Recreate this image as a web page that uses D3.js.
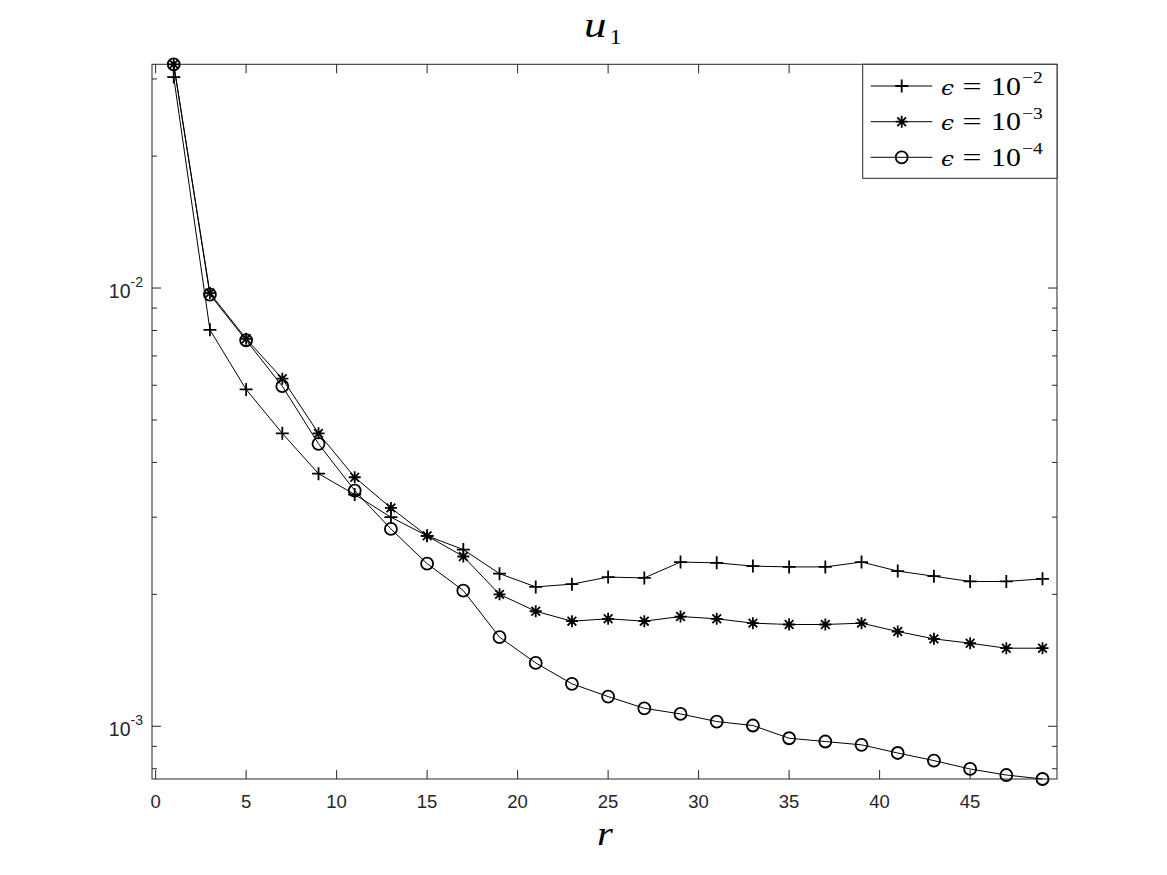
<!DOCTYPE html>
<html><head><meta charset="utf-8">
<script src="https://cdn.jsdelivr.net/npm/d3@7"></script>
<style>body{margin:0;background:#fff}svg{display:block}</style>
</head><body>
<svg id="c" width="1167" height="875"></svg>
<script>
const rValues = [1,3,5,7,9,11,13,15,17,19,21,23,25,27,29,31,33,35,37,39,41,43,45,47,49];
const eps2 = [0.0303,8.03e-3,5.87e-3,4.66e-3,3.77e-3,3.38e-3,3.00e-3,2.72e-3,2.53e-3,2.23e-3,2.08e-3,2.11e-3,2.19e-3,2.18e-3,2.37e-3,2.36e-3,2.32e-3,2.31e-3,2.31e-3,2.37e-3,2.26e-3,2.20e-3,2.14e-3,2.14e-3,2.17e-3];
const eps3 = [0.0324,9.74e-3,7.66e-3,6.21e-3,4.66e-3,3.70e-3,3.15e-3,2.72e-3,2.44e-3,2.00e-3,1.83e-3,1.737e-3,1.759e-3,1.737e-3,1.78e-3,1.759e-3,1.719e-3,1.707e-3,1.707e-3,1.719e-3,1.645e-3,1.583e-3,1.547e-3,1.507e-3,1.507e-3];
const eps4 = [0.0324,9.66e-3,7.60e-3,5.97e-3,4.41e-3,3.45e-3,2.82e-3,2.35e-3,2.04e-3,1.597e-3,1.395e-3,1.25e-3,1.169e-3,1.099e-3,1.067e-3,1.025e-3,1.004e-3,9.39e-4,9.23e-4,9.07e-4,8.69e-4,8.35e-4,7.99e-4,7.74e-4,7.58e-4];
const seriesNames = ["−2","−3","−4"];
const seriesMarkers = ["plus","star","circle"];
const xTicks = [0,5,10,15,20,25,30,35,40,45];
const yMajor = [1e-3,1e-2];
const yMajorExp = ["-3","-2"];
const xLimits = [-0.2, 49.8];

const svg = d3.select("#c");
const L=152, R=1057, T=64.3, B=779;
const x = d3.scaleLinear().domain(xLimits).range([L,R]);
const all = eps2.concat(eps3, eps4);
const y = d3.scaleLog().domain([d3.min(all), d3.max(all)]).range([B,T]);
const ax = "#262626";
const SANS = "Liberation Sans, Arial, sans-serif";
const SERIF = "Liberation Serif, serif";

function stext(parent, px, py, sx, anchor){
  return parent.append("text").attr("transform",`translate(${px},${py}) scale(${sx},1)`).attr("text-anchor",anchor||"start");
}

const minor = [];
for (let e=-4;e<=-1;e++) for (let k=2;k<=9;k++){const v=k*Math.pow(10,e); if(v>=y.domain()[0]&&v<=y.domain()[1]) minor.push(v);}

const g = svg.append("g");
g.append("rect").attr("x",L).attr("y",T).attr("width",R-L).attr("height",B-T).attr("fill","none").attr("stroke",ax).attr("stroke-width",1);
xTicks.forEach(t=>{
  const px=x(t);
  g.append("line").attr("x1",px).attr("x2",px).attr("y1",B).attr("y2",B-9).attr("stroke",ax);
  g.append("line").attr("x1",px).attr("x2",px).attr("y1",T).attr("y2",T+9).attr("stroke",ax);
  g.append("text").attr("x",px).attr("y",808).attr("text-anchor","middle").attr("font-family",SANS).attr("font-size",18.5).attr("fill",ax).text(t);
});
yMajor.forEach((t,i)=>{
  const py=y(t);
  g.append("line").attr("x1",L).attr("x2",L+9).attr("y1",py).attr("y2",py).attr("stroke",ax);
  g.append("line").attr("x1",R).attr("x2",R-9).attr("y1",py).attr("y2",py).attr("stroke",ax);
  const tx=g.append("text").attr("x",143).attr("y",py+9.5).attr("text-anchor","end").attr("font-family",SANS).attr("font-size",19.5).attr("fill",ax);
  tx.append("tspan").text("10");
  tx.append("tspan").attr("dy",-11).attr("font-size",14).text(yMajorExp[i]);
});
minor.forEach(t=>{
  const py=y(t);
  g.append("line").attr("x1",L).attr("x2",L+5).attr("y1",py).attr("y2",py).attr("stroke",ax);
  g.append("line").attr("x1",R).attr("x2",R-5).attr("y1",py).attr("y2",py).attr("stroke",ax);
});

function marker(sel, type, cx, cy){
  if(type==="plus"){
    sel.append("path").attr("d",`M${cx-6.5},${cy}H${cx+6.5}M${cx},${cy-6.5}V${cy+6.5}`).attr("stroke","#000").attr("stroke-width",1.8).attr("fill","none");
  } else if(type==="star"){
    const r=6, d=r*0.72;
    sel.append("path").attr("d",`M${cx-r},${cy}H${cx+r}M${cx},${cy-r}V${cy+r}M${cx-d},${cy-d}L${cx+d},${cy+d}M${cx-d},${cy+d}L${cx+d},${cy-d}`).attr("stroke","#000").attr("stroke-width",1.8).attr("fill","none");
  } else {
    sel.append("circle").attr("cx",cx).attr("cy",cy).attr("r",6).attr("stroke","#000").attr("stroke-width",1.8).attr("fill","none");
  }
}

const line = d3.line().x(d=>x(d[0])).y(d=>y(d[1]));
[eps2,eps3,eps4].forEach((s,i)=>{
  const data = rValues.map((r,j)=>[r,s[j]]);
  g.append("path").datum(data).attr("d",line).attr("fill","none").attr("stroke","#000").attr("stroke-width",1);
  data.forEach(d=>marker(g, seriesMarkers[i], x(d[0]), y(d[1])));
});

// title
stext(svg, 584, 37, 1.25).attr("font-family",SERIF).attr("font-size",36).attr("font-style","italic").text("u");
stext(svg, 609.5, 44, 1.1).attr("font-family",SERIF).attr("font-size",22).text("1");
// x label
stext(svg, 597, 845, 1.2).attr("font-family",SERIF).attr("font-size",34).attr("font-style","italic").text("r");

// legend
const lg = svg.append("g");
lg.append("rect").attr("x",862.7).attr("y",T).attr("width",R-862.7).attr("height",114).attr("fill","#fff").attr("stroke",ax).attr("stroke-width",1);
const ly=[86,121.7,157.3];
seriesNames.forEach((n,i)=>{
  lg.append("line").attr("x1",870.7).attr("x2",932.3).attr("y1",ly[i]).attr("y2",ly[i]).attr("stroke","#000").attr("stroke-width",1);
  marker(lg, seriesMarkers[i], 901.7, ly[i]);
  stext(lg, 941, ly[i]+8.5, 1.1).attr("font-family","DejaVu Serif, serif").attr("font-style","italic").attr("font-size",21).text("ϵ");
  stext(lg, 962.5, ly[i]+8.5, 1.3).attr("font-family",SERIF).attr("font-size",26).text("=");
  stext(lg, 991, ly[i]+8.5, 1.15).attr("font-family",SERIF).attr("font-size",26).text("10");
  stext(lg, 1022, ly[i]-3, 1.15).attr("font-family",SERIF).attr("font-size",17).text(n);
});
</script>
</body></html>
